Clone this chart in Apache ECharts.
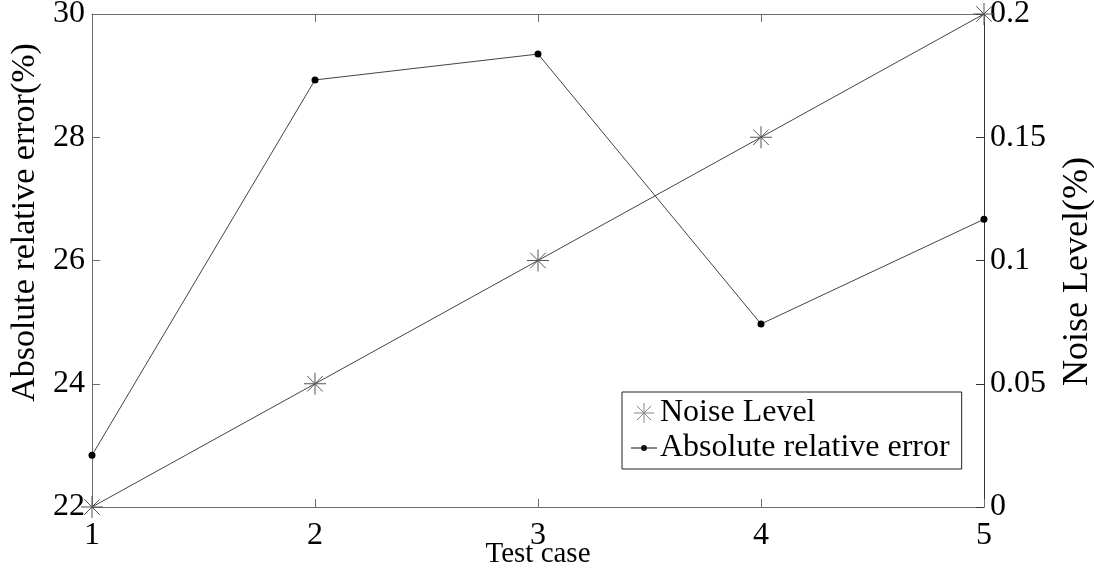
<!DOCTYPE html>
<html>
<head>
<meta charset="utf-8">
<script src="https://cdn.jsdelivr.net/npm/echarts@6/dist/echarts.min.js"></script>
<style>
  html, body { margin: 0; padding: 0; background: #fff; }
  #chart { width: 1094px; height: 574px; }
</style>
</head>
<body>
<div id="chart"></div>
<script>
// Test cases along the x axis
const testCases = ['1', '2', '3', '4', '5'];
// Absolute relative error (%) per test case, left axis
const absRelError = [22.84, 28.93, 29.35, 24.97, 26.67];
// Noise level (%) per test case, right axis
const noiseLevel = [0, 0.05, 0.10, 0.15, 0.20];

const FONT = '"Liberation Serif", "DejaVu Serif", serif';
const FRAME = '#6e6e6e';
// eight-armed asterisk marker
const ASTERISK = 'path://M0,-10L0,10M-10,0L10,0M-7.07,-7.07L7.07,7.07M-7.07,7.07L7.07,-7.07';
// legend glyph: short line with a small dot in the middle
const LINE_DOT = 'path://M0,9.5L26,9.5L26,10.5L0,10.5Z M16,10A3,3 0 1 1 10,10A3,3 0 1 1 16,10Z';

const chart = echarts.init(document.getElementById('chart'), null, { renderer: 'canvas' });

chart.setOption({
  backgroundColor: '#fff',
  animation: false,
  grid: { left: 92, right: 110, top: 14, bottom: 67, containLabel: false, outerBoundsMode: 'none' },
  legend: {
    orient: 'vertical',
    left: 622,
    top: 392,
    padding: [5, 12, 5, 9],
    itemGap: 3,
    itemWidth: 26,
    itemHeight: 20,
    symbolKeepAspect: true,
    borderColor: '#222',
    borderWidth: 1,
    backgroundColor: '#fff',
    textStyle: { fontFamily: FONT, fontSize: 32, color: '#000', padding: [0, 0, 0, -2] },
    data: [
      { name: 'Noise Level', icon: ASTERISK,
        itemStyle: { color: 'none', borderColor: '#888', borderWidth: 1 } },
      { name: 'Absolute relative error', icon: LINE_DOT,
        itemStyle: { color: '#111', borderWidth: 0 } }
    ]
  },
  xAxis: [
    {
      type: 'category',
      data: testCases,
      boundaryGap: false,
      name: 'Test case',
      nameLocation: 'middle',
      nameGap: 33,
      nameMoveOverlap: false,
      nameTextStyle: { fontFamily: FONT, fontSize: 29, color: '#000' },
      axisLine: { lineStyle: { color: FRAME, width: 1 } },
      axisTick: { inside: true, length: 8, lineStyle: { color: FRAME } },
      axisLabel: { fontFamily: FONT, fontSize: 32, color: '#000', margin: 13 },
      splitLine: { show: false }
    },
    {
      type: 'category',
      data: testCases,
      boundaryGap: false,
      position: 'top',
      axisLine: { lineStyle: { color: FRAME, width: 1 } },
      axisTick: { inside: true, length: 8, lineStyle: { color: FRAME } },
      axisLabel: { show: false },
      splitLine: { show: false }
    }
  ],
  yAxis: [
    {
      type: 'value',
      min: 22, max: 30, interval: 2,
      position: 'left',
      name: 'Absolute relative error(%)',
      nameLocation: 'middle',
      nameRotate: 90,
      nameGap: 50,
      nameTextStyle: { fontFamily: FONT, fontSize: 34, color: '#000', padding: [0, 0, 0, 76] },
      axisLine: { show: true, lineStyle: { color: FRAME, width: 1 } },
      axisTick: { show: true, inside: true, length: 8, lineStyle: { color: FRAME } },
      axisLabel: { fontFamily: FONT, fontSize: 32, color: '#000', margin: 7 },
      splitLine: { show: false }
    },
    {
      type: 'value',
      min: 0, max: 0.2, interval: 0.05,
      position: 'right',
      name: 'Noise Level(%)',
      nameLocation: 'middle',
      nameRotate: 90,
      nameGap: 76,
      nameTextStyle: { fontFamily: FONT, fontSize: 36, color: '#000', padding: [0, 22, 0, 0] },
      axisLine: { show: true, lineStyle: { color: '#333', width: 1 } },
      axisTick: { show: true, inside: true, length: 8, lineStyle: { color: '#333' } },
      axisLabel: { fontFamily: FONT, fontSize: 32, color: '#000', margin: 6 },
      splitLine: { show: false }
    }
  ],
  series: [
    {
      name: 'Noise Level',
      type: 'line',
      xAxisIndex: 0,
      yAxisIndex: 1,
      data: noiseLevel,
      symbol: ASTERISK,
      symbolSize: 22,
      showAllSymbol: true,
      clip: false,
      itemStyle: { color: 'none', borderColor: '#555', borderWidth: 1 },
      lineStyle: { color: '#444', width: 1 },
      z: 3
    },
    {
      name: 'Absolute relative error',
      type: 'line',
      xAxisIndex: 0,
      yAxisIndex: 0,
      data: absRelError,
      symbol: 'circle',
      symbolSize: 7,
      showAllSymbol: true,
      clip: false,
      itemStyle: { color: '#000', borderWidth: 0 },
      lineStyle: { color: '#444', width: 1 },
      z: 4
    }
  ]
});
</script>
</body>
</html>
